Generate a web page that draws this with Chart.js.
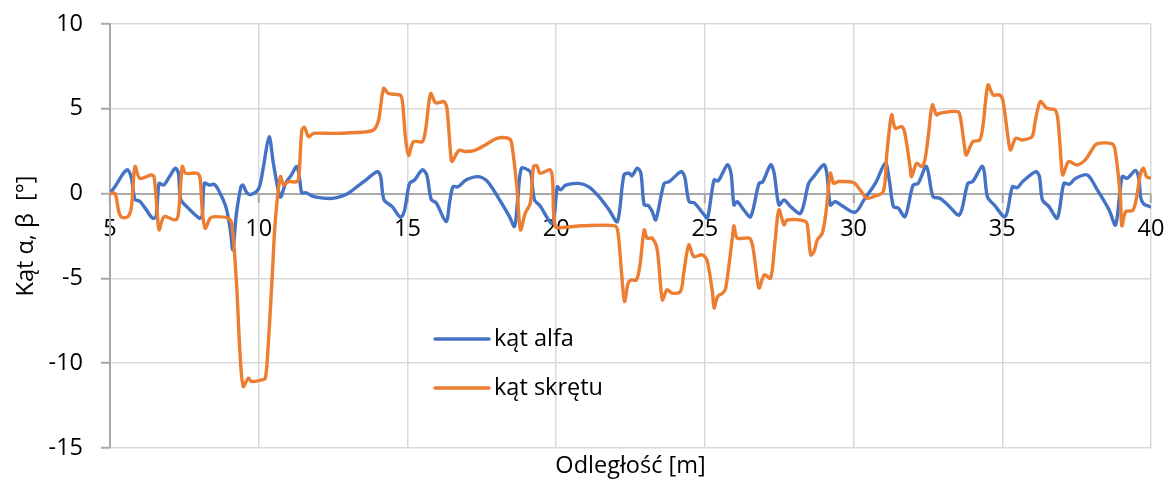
<!DOCTYPE html>
<html lang="pl">
<head>
<meta charset="utf-8">
<title>Kąt alfa i kąt skrętu</title>
<script src="https://cdn.jsdelivr.net/npm/chart.js@4.4.1/dist/chart.umd.min.js"></script>
<style>
  html, body { margin: 0; padding: 0; background: #ffffff; }
  #wrap { width: 1167px; height: 486px; }
</style>
</head>
<body>
<div id="wrap"><canvas id="chart" width="1167" height="486"></canvas></div>
<script>
// Axis ticks
const xTicks = [5, 10, 15, 20, 25, 30, 35, 40];
const yTicks = [-15, -10, -5, 0, 5, 10];

// Series: kąt alfa (distance [m], angle [°])
const alfaDist = [5.0,5.2,5.45,5.6,5.72,5.84,6.0,6.2,6.43,6.55,6.65,6.8,7.0,7.2,7.3,7.38,7.6,8.0,8.1,8.17,8.35,8.5,8.65,8.9,9.05,9.13,9.25,9.4,9.47,9.6,9.75,10.0,10.15,10.35,10.5,10.73,10.9,11.1,11.28,11.38,11.45,11.6,11.8,12.1,12.48,12.8,13.04,13.3,13.6,13.99,14.1,14.21,14.49,14.77,14.9,15.07,15.24,15.5,15.65,15.8,15.97,16.3,16.42,16.53,16.7,16.97,17.36,17.64,17.9,18.1,18.43,18.6,18.7,18.83,19.05,19.15,19.27,19.45,19.87,20.04,20.15,20.32,20.77,21.1,21.44,21.78,22.06,22.28,22.45,22.55,22.73,22.85,22.96,23.1,23.23,23.35,23.63,23.8,24.2,24.32,24.47,24.65,24.98,25.09,25.31,25.45,25.76,25.88,25.98,26.09,26.3,26.54,26.82,26.95,27.21,27.33,27.49,27.66,27.9,28.22,28.49,28.66,29.0,29.1,29.22,29.38,29.6,30.05,30.35,30.73,31.07,31.2,31.34,31.5,31.73,32.0,32.17,32.45,32.67,32.9,33.17,33.56,33.84,34.0,34.34,34.5,34.73,35.1,35.34,35.5,35.68,36.13,36.25,36.35,36.57,36.85,37.07,37.25,37.47,37.86,38.2,38.59,38.81,39.03,39.2,39.48,39.6,39.65,39.75,40.0];
const alfaDeg = [0.0,0.5,1.2,1.4,0.9,-0.35,-0.45,-0.9,-1.45,-1.35,0.6,0.5,1.0,1.5,1.2,-0.35,-0.8,-1.45,-1.3,0.6,0.5,0.55,0.2,-0.8,-2.2,-3.3,-1.2,0.4,0.5,0.05,-0.05,0.3,1.5,3.35,1.7,-0.2,0.6,1.1,1.6,0.8,0.05,0.05,-0.15,-0.25,-0.28,-0.15,0.05,0.4,0.8,1.3,1.0,-0.35,-0.77,-1.4,-1.0,0.6,0.8,1.4,1.1,-0.35,-0.55,-1.65,-0.5,0.4,0.4,0.8,1.0,0.8,0.2,-0.37,-1.36,-1.94,-0.5,1.5,1.4,1.2,-0.37,-0.7,-1.75,0.4,0.22,0.5,0.6,0.4,-0.18,-0.96,-1.65,1.1,1.2,1.05,1.5,1.2,-0.67,-0.7,-1.06,-1.55,0.6,0.7,1.3,1.0,-0.47,-0.55,-1.26,-1.45,0.8,0.75,1.7,1.2,-0.67,-0.47,-0.95,-1.36,0.6,0.7,1.7,1.2,-0.67,-0.37,-0.8,-1.16,0.6,1.0,1.7,1.2,-0.67,-0.47,-0.7,-1.1,-0.37,0.6,1.8,0.8,-0.77,-0.85,-1.36,0.5,0.6,1.6,-0.18,-0.27,-0.67,-1.26,0.6,0.7,1.6,-0.18,-0.67,-1.36,0.4,0.35,0.7,1.3,1.0,-0.37,-0.77,-1.45,0.6,0.55,0.9,1.1,0.2,-0.96,-1.85,1.0,0.9,1.36,0.8,-0.2,-0.6,-0.8];

// Series: kąt skrętu (distance [m], angle [°])
const skretDist = [5.0,5.17,5.3,5.4,5.6,5.72,5.84,6.0,6.38,6.48,6.59,6.65,6.82,7.2,7.3,7.43,7.54,7.93,8.03,8.1,8.2,8.37,8.54,8.98,9.1,9.26,9.37,9.48,9.65,9.76,10.1,10.22,10.3,10.45,10.56,10.73,10.84,11.0,11.28,11.35,11.45,11.54,11.68,11.84,12.45,13.46,13.86,14.03,14.2,14.36,14.76,14.84,14.93,15.04,15.2,15.5,15.61,15.78,15.95,16.23,16.33,16.45,16.5,16.73,16.95,17.29,17.62,18.01,18.4,18.5,18.68,18.8,18.96,19.13,19.24,19.35,19.46,19.8,19.88,19.97,20.3,20.86,21.98,22.08,22.2,22.3,22.42,22.53,22.7,22.82,22.96,23.06,23.23,23.4,23.57,23.73,23.9,24.18,24.29,24.46,24.63,24.91,25.07,25.26,25.31,25.43,25.6,25.7,25.93,25.98,26.09,26.5,26.61,26.78,26.83,27.0,27.21,27.35,27.49,27.66,27.77,28.39,28.47,28.56,28.67,28.78,28.95,29.08,29.22,29.33,29.5,30.0,30.22,30.45,30.67,31.0,31.12,31.28,31.4,31.62,31.72,31.9,31.95,32.12,32.29,32.4,32.51,32.65,32.79,32.9,33.51,33.6,33.73,33.79,34.01,34.24,34.35,34.52,34.69,34.91,35.02,35.22,35.28,35.45,35.67,36.0,36.1,36.28,36.5,36.78,36.88,37.0,37.04,37.23,37.51,37.79,38.01,38.18,38.69,38.8,38.97,39.02,39.15,39.38,39.5,39.65,39.75,39.85,40.0];
const skretDeg = [0.0,0.0,-1.1,-1.4,-1.36,-0.8,1.6,0.9,1.1,1.0,-1.16,-2.14,-1.36,-1.55,-1.2,1.6,1.2,1.2,0.9,-0.96,-2.04,-1.45,-1.36,-1.45,-1.8,-5.5,-9.4,-11.37,-10.88,-11.08,-10.98,-10.9,-9.5,-5.0,-1.55,1.0,0.5,0.7,0.7,1.0,3.75,3.9,3.35,3.55,3.55,3.62,3.75,4.34,6.2,5.9,5.8,5.3,3.36,2.25,3.06,3.06,3.75,5.9,5.35,5.42,5.0,2.38,1.9,2.55,2.48,2.57,2.87,3.26,3.26,3.0,0.4,-2.14,-1.16,-0.57,1.6,1.65,1.2,1.4,0.8,-1.94,-1.98,-1.9,-1.9,-2.3,-4.69,-6.36,-5.28,-5.09,-5.09,-4.2,-2.14,-2.63,-2.63,-3.32,-6.26,-5.67,-5.87,-5.77,-4.69,-3.02,-3.71,-3.61,-3.91,-5.87,-6.75,-6.07,-5.87,-5.6,-2.53,-1.9,-2.63,-2.63,-3.12,-5.28,-5.57,-4.79,-4.99,-3.0,-0.96,-1.84,-1.55,-1.65,-2.2,-3.61,-3.42,-2.73,-2.33,-1.0,1.2,0.61,0.71,0.65,0.22,-0.27,-0.18,0.12,2.38,4.64,3.85,3.95,3.6,1.59,1.0,1.79,1.59,2.0,3.36,5.23,4.64,4.74,4.83,4.4,2.77,2.28,3.06,3.16,4.0,6.41,5.82,5.82,5.5,2.97,2.57,3.26,3.16,3.36,4.2,5.42,5.03,4.93,4.2,1.4,1.1,1.89,1.69,1.99,2.57,2.93,2.93,2.5,-0.18,-1.9,-1.06,-1.0,-0.37,1.2,1.5,1.0,0.9];

const FONT = "'Open Sans', 'Noto Sans', 'Liberation Sans', sans-serif";
const TEXT = '#000000';
const GRID = '#d9d9d9';
const AXIS = '#a9a9a9';

const zip = (xs, ys) => xs.map((x, i) => ({ x: x, y: ys[i] }));

// Tick labels may overhang the plot edges; keep them from shrinking the plot area
const noEdgePadding = s => {
  s.paddingTop = 0; s.paddingBottom = 0; s.paddingLeft = 0; s.paddingRight = 0;
};

// Legend drawn inside the plot area
const innerLegend = {
  id: 'innerLegend',
  afterDraw(chart, args, opts) {
    const ctx = chart.ctx;
    ctx.save();
    ctx.font = opts.fontSize + 'px ' + FONT;
    ctx.textBaseline = 'middle';
    ctx.textAlign = 'left';
    chart.data.datasets.forEach((ds, i) => {
      const y = opts.top + i * opts.rowGap;
      ctx.strokeStyle = ds.borderColor;
      ctx.lineWidth = ds.borderWidth;
      ctx.lineCap = 'round';
      ctx.beginPath();
      ctx.moveTo(opts.left, y);
      ctx.lineTo(opts.left + opts.lineLength, y);
      ctx.stroke();
      ctx.fillStyle = TEXT;
      ctx.fillText(ds.label, opts.left + opts.lineLength + opts.gap, y);
    });
    ctx.restore();
  }
};

new Chart(document.getElementById('chart'), {
  type: 'line',
  data: {
    datasets: [
      {
        label: 'kąt alfa',
        data: zip(alfaDist, alfaDeg),
        borderColor: '#4472C4',
        borderWidth: 3.4,
        pointRadius: 0,
        tension: 0.3,
        fill: false,
        order: 1
      },
      {
        label: 'kąt skrętu',
        data: zip(skretDist, skretDeg),
        borderColor: '#ED7D31',
        borderWidth: 3.4,
        pointRadius: 0,
        tension: 0.3,
        fill: false,
        order: 0
      }
    ]
  },
  options: {
    responsive: false,
    animation: false,
    events: [],
    layout: { padding: { left: 0, right: 16, top: 24, bottom: 0 } },
    plugins: {
      legend: { display: false },
      tooltip: { enabled: false },
      innerLegend: { left: 435, top: 339, rowGap: 49, lineLength: 54, gap: 5, fontSize: 23.5 }
    },
    scales: {
      x: {
        type: 'linear',
        position: { y: 0 },
        min: 5,
        max: 40,
        afterBuildTicks: s => { s.ticks = xTicks.map(v => ({ value: v })); },
        ticks: { color: TEXT, font: { family: FONT, size: 23.5 }, padding: 14, maxRotation: 0 },
        grid: { color: GRID, lineWidth: 1.5, tickLength: 8, tickColor: AXIS, tickWidth: 2 },
        border: { display: true, color: AXIS, width: 2 },
        afterFit: noEdgePadding
      },
      xTitle: {
        type: 'linear',
        axis: 'x',
        position: 'bottom',
        min: 5,
        max: 40,
        ticks: { display: false },
        grid: { display: false, drawTicks: false },
        border: { display: false },
        title: { display: true, text: 'Odległość [m]', color: TEXT, font: { family: FONT, size: 23.5 }, padding: { top: 0, bottom: 6 } },
        afterFit: s => { noEdgePadding(s); s.height = 38; }
      },
      y: {
        type: 'linear',
        position: 'left',
        min: -15,
        max: 10,
        afterBuildTicks: s => { s.ticks = yTicks.map(v => ({ value: v })); },
        ticks: { color: TEXT, font: { family: FONT, size: 23.5 }, padding: 18 },
        grid: { color: GRID, lineWidth: 1.5, tickLength: 9, tickColor: AXIS, tickWidth: 2 },
        border: { display: true, color: AXIS, width: 2 },
        title: { display: true, text: 'Kąt α, β  [°]', color: TEXT, font: { family: FONT, size: 23.5 }, padding: { top: 12, bottom: 0 } },
        afterFit: s => { noEdgePadding(s); s.width = 110; }
      }
    }
  },
  plugins: [innerLegend]
});
</script>
</body>
</html>
